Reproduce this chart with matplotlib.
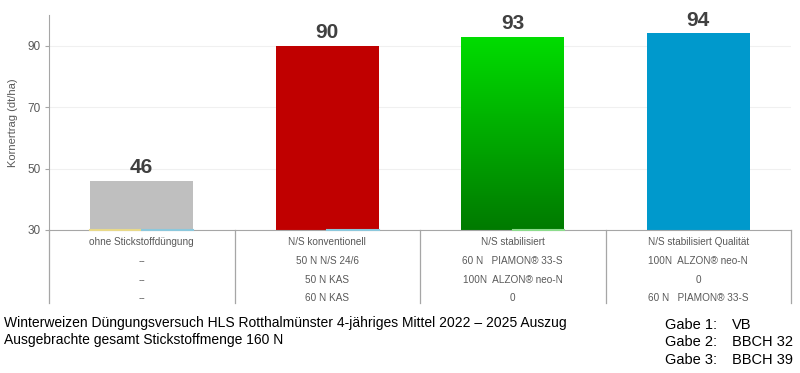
import numpy as np
import matplotlib.pyplot as plt
from matplotlib.colors import LinearSegmentedColormap
from matplotlib.transforms import blended_transform_factory

plt.rcParams['font.family'] = ['Liberation Sans', 'DejaVu Sans']

categories = ['ohne Stickstoffdüngung', 'N/S konventionell', 'N/S stabilisiert', 'N/S stabilisiert Qualität']
ertrag = [46, 90, 93, 94]
gabe1 = ['--', '50 N N/S 24/6', '60 N   PIAMON® 33-S', '100N  ALZON® neo-N']
gabe2 = ['--', '50 N KAS', '100N  ALZON® neo-N', '0']
gabe3 = ['--', '60 N KAS', '0', '60 N   PIAMON® 33-S']
bar_colors = ['#bfbfbf', '#c00000', None, '#0099cc']
y_ticks = [30, 50, 70, 90]

fig = plt.figure(figsize=(8, 3.73), dpi=100)
ax = fig.add_axes([49 / 800, 143 / 373, 742 / 800, 215 / 373])

x = np.arange(len(categories))
width = 0.555
bars = ax.bar(x, np.array(ertrag) - 30, bottom=30, width=width,
              color=[c if c else 'none' for c in bar_colors], zorder=2)

# Farbverlauf für den grünen Balken
gb = bars[2]
x0, y0 = gb.get_x(), gb.get_y()
grad = np.linspace(0, 1, 256).reshape(-1, 1)
cmap = LinearSegmentedColormap.from_list('g', ['#007a00', '#00dd00'])
im = ax.imshow(grad, cmap=cmap, aspect='auto', origin='lower',
               extent=(x0, x0 + gb.get_width(), y0, y0 + gb.get_height()), zorder=2)
im.set_clip_path(gb)

# kleine Reste der Nullwerte anderer Reihen an der Basis
ax.plot([x[0] - width / 2, x[0]], [30, 30], color='#e8d98a', lw=1.5, zorder=3, clip_on=False)
ax.plot([x[0], x[0] + width / 2], [30, 30], color='#8cc8dc', lw=1.5, zorder=3, clip_on=False)
ax.plot([x[1], x[1] + width / 2], [30, 30], color='#8cc8dc', lw=1.5, zorder=3, clip_on=False)
ax.plot([x[2], x[2] + width / 2], [30, 30], color='#8cdc8c', lw=1.5, zorder=3, clip_on=False)

for xi, v in zip(x, ertrag):
    ax.text(xi, v + 1.2, str(v), ha='center', va='bottom', fontsize=15,
            fontweight='bold', color='#404040')

ax.set_xlim(-0.5, 3.5)
ax.set_ylim(30, 100)
ax.set_yticks(y_ticks)
ax.set_yticklabels([str(t) for t in y_ticks], color='#595959', fontsize=8.5)
ax.tick_params(axis='y', length=3, color='#a6a6a6', pad=3)
ax.set_xticks([])
ax.grid(axis='y', color='#f0f0f0', linewidth=0.8, zorder=0)
ax.set_axisbelow(True)
ax.set_ylabel('Kornertrag (dt/ha)', fontsize=8, color='#595959', labelpad=7)

for s in ['top', 'right']:
    ax.spines[s].set_visible(False)
ax.spines['left'].set_color('#a6a6a6')
ax.spines['bottom'].set_color('#a6a6a6')

# Tabelle unter der Achse
trans = blended_transform_factory(ax.transData, ax.transAxes)
h = 215
for b in np.arange(-0.5, 4.0, 1.0):
    ax.plot([b, b], [0, -73 / h], transform=trans, color='#a6a6a6',
            linewidth=0.9, clip_on=False)

rows = [categories, gabe1, gabe2, gabe3]
row_y = [242, 261, 280, 298]
for labels, ry in zip(rows, row_y):
    for xi, lab in zip(x, labels):
        ax.text(xi, -(ry - 230) / h, lab, transform=trans, ha='center',
                va='center', fontsize=7.2, color='#595959')

fig.text(4 / 800, 1 - 323 / 373, 'Winterweizen Düngungsversuch HLS Rotthalmünster 4-jähriges Mittel 2022 – 2025 Auszug',
         fontsize=10, va='center', color='black')
fig.text(4 / 800, 1 - 340 / 373, 'Ausgebrachte gesamt Stickstoffmenge 160 N',
         fontsize=10, va='center', color='black')

gabe_names = ['Gabe 1:', 'Gabe 2:', 'Gabe 3:']
gabe_zeit = ['VB', 'BBCH 32', 'BBCH 39']
for i, (n, z) in enumerate(zip(gabe_names, gabe_zeit)):
    yy = 1 - (325 + i * 17.5) / 373
    fig.text(665 / 800, yy, n, fontsize=10.5, va='center')
    fig.text(732 / 800, yy, z, fontsize=10.5, va='center')

fig.savefig('out.png', dpi=100)
